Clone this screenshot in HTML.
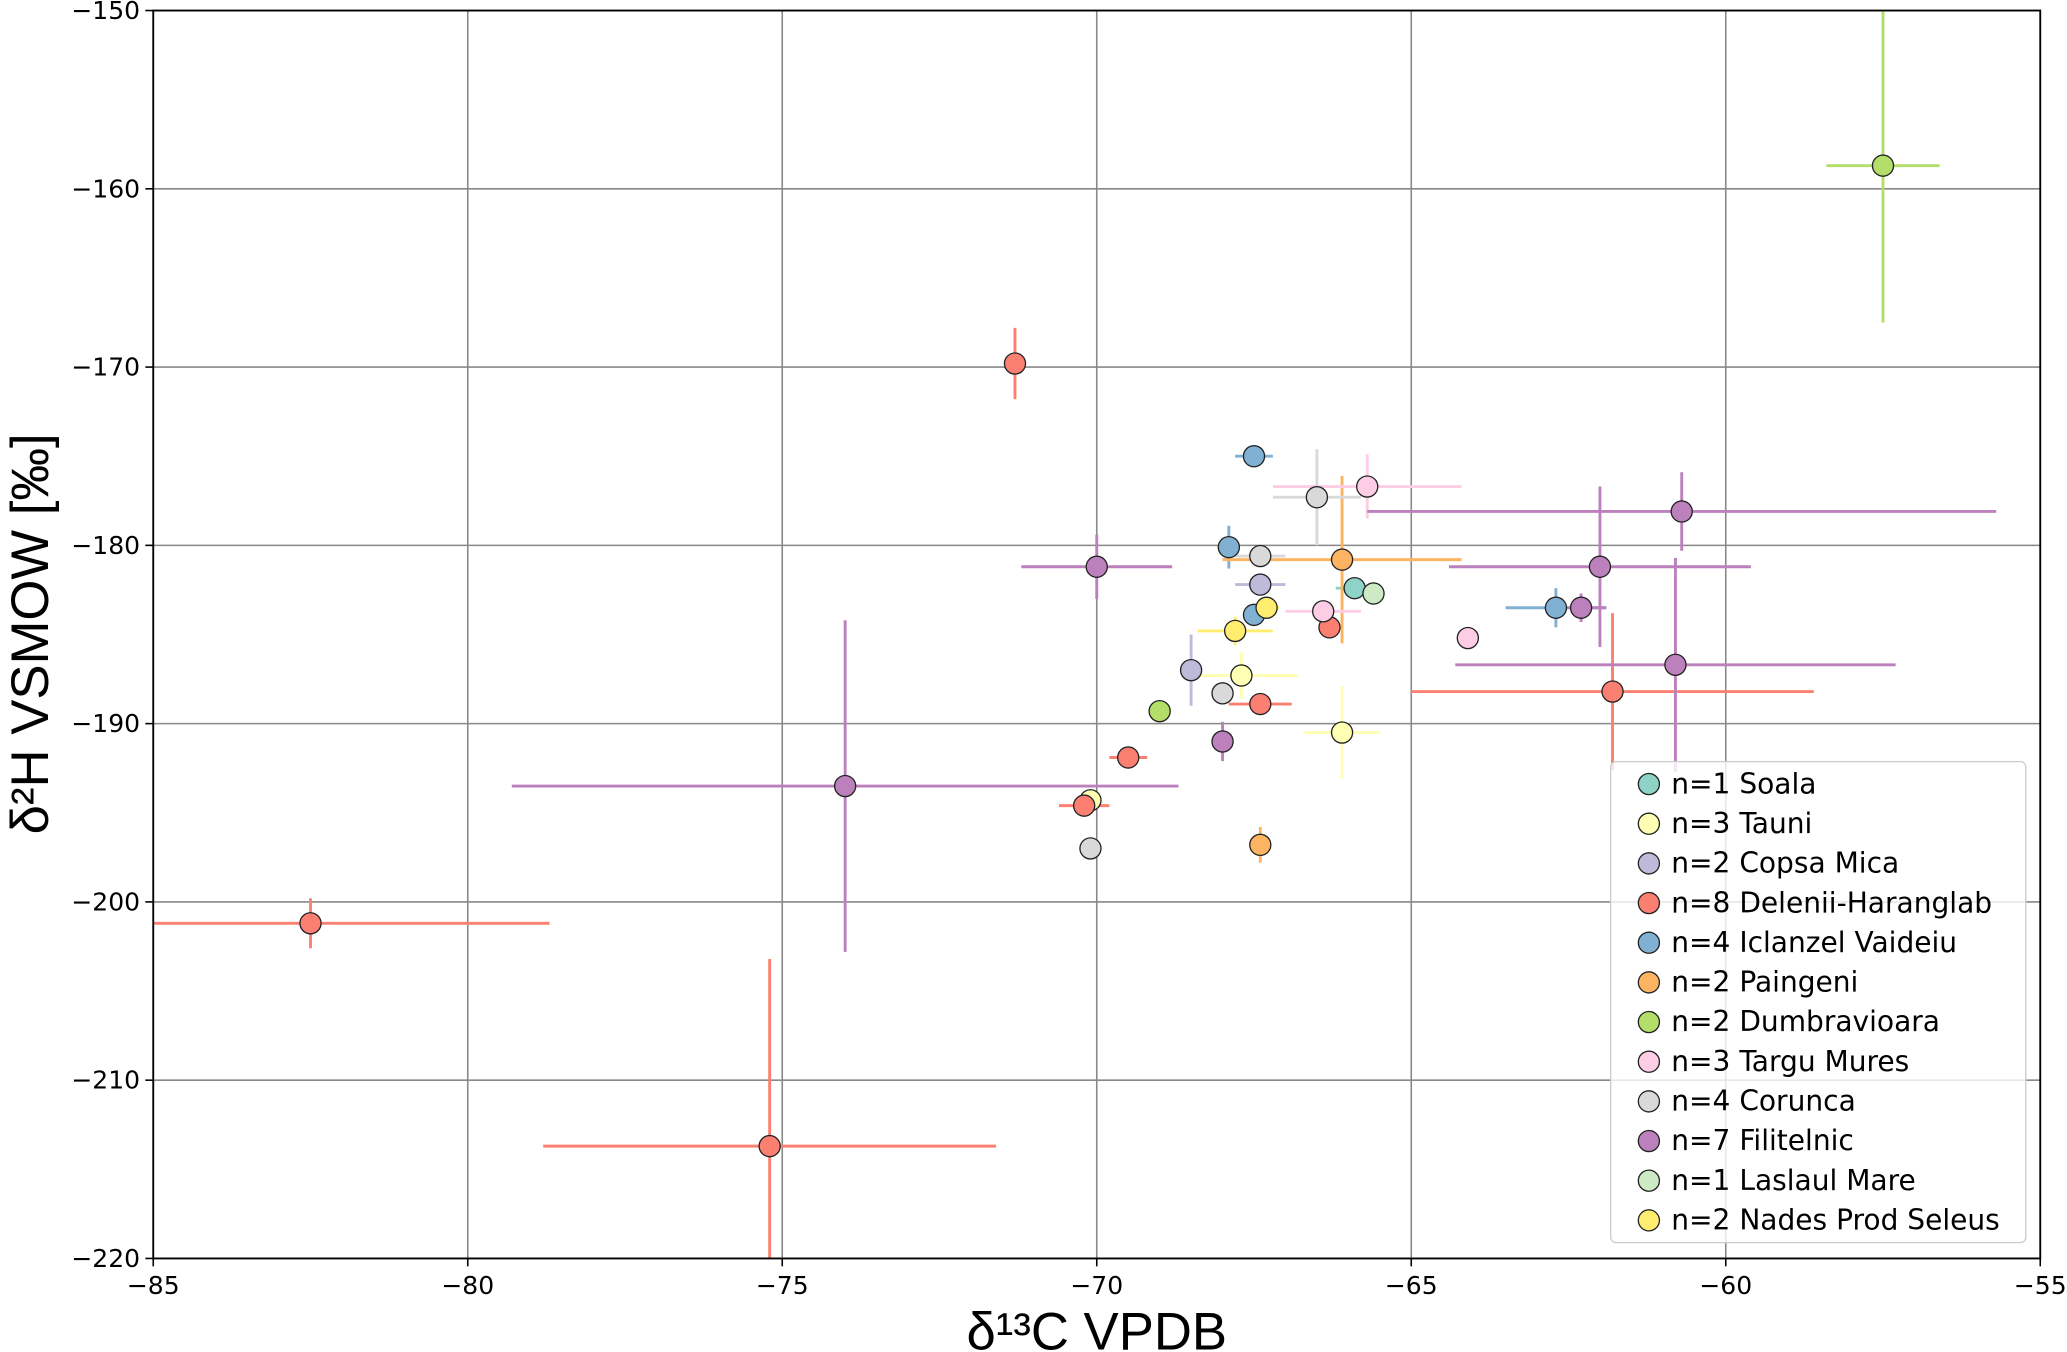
<!DOCTYPE html>
<html><head><meta charset="utf-8"><style>
html,body{margin:0;padding:0;background:#fff;}
svg{display:block;font-family:"DejaVu Sans","Liberation Sans",sans-serif;}
.ttl{font-family:"Liberation Sans",sans-serif;}
</style></head><body>
<svg id="chart" width="2067" height="1352" viewBox="0 0 1568 1026" xmlns="http://www.w3.org/2000/svg">
<g id="grid"></g>
<g id="marks"></g>
<rect x="116" y="8" width="1432" height="947" fill="none" stroke="#000" stroke-width="1.4"/>
<g id="ticks"></g>
<text class="ttl" x="832" y="1024" font-size="40" text-anchor="middle">δ¹³C VPDB</text>
<text class="ttl" transform="translate(36,481) rotate(-90)" font-size="40" text-anchor="middle">δ²H VSMOW [‰]</text>
<g id="legend"></g>
</svg>
<script>
const groups = ["n=1 Soala","n=3 Tauni","n=2 Copsa Mica","n=8 Delenii-Haranglab","n=4 Iclanzel Vaideiu","n=2 Paingeni","n=2 Dumbravioara","n=3 Targu Mures","n=4 Corunca","n=7 Filitelnic","n=1 Laslaul Mare","n=2 Nades Prod Seleus"];
const colors = ["#8dd3c7","#ffffb3","#bebada","#fb8072","#80b1d3","#fdb462","#b3de69","#fccde5","#d9d9d9","#bc80bd","#ccebc5","#ffed6f"];
const ptGroup = [0, 1,1,1, 2,2, 3,3,3,3,3,3,3,3, 4,4,4,4, 5,5, 6,6, 7,7,7, 8,8,8,8, 9,9,9,9,9,9,9, 10, 11,11];
const ptX = [-65.9, -70.1,-67.7,-66.1, -67.4,-68.5, -71.3,-82.5,-75.2,-70.2,-69.5,-67.4,-66.3,-61.8, -67.5,-67.9,-67.5,-62.7, -66.1,-67.4, -69.0,-57.5, -65.7,-66.4,-64.1, -66.5,-67.4,-68.0,-70.1, -70.0,-74.0,-68.0,-62.3,-62.0,-60.7,-60.8, -65.6, -67.3,-67.8];
const ptY = [-182.4, -194.3,-187.3,-190.5, -182.2,-187.0, -169.8,-201.2,-213.7,-194.6,-191.9,-188.9,-184.6,-188.2, -175.0,-180.1,-183.9,-183.5, -180.8,-196.8, -189.3,-158.7, -176.7,-183.7,-185.2, -177.3,-180.6,-188.3,-197.0, -181.2,-193.5,-191.0,-183.5,-181.2,-178.1,-186.7, -182.7, -183.5,-184.8];
const ptXerr = [0.3, 0,0.9,0.6, 0.4,0, 0,3.8,3.6,0.4,0.3,0.5,0,3.2, 0.3,0,0,0.8, 1.9,0, 0,0.9, 1.5,0.6,0, 0.7,0.4,0,0, 1.2,5.3,0,0.4,2.4,5.0,3.5, 0, 0.2,0.6];
const ptYerr = [0, 0,1.3,2.6, 0.5,2.0, 2.0,1.4,10.5,0,0,0,0,4.4, 0,1.2,0,1.1, 4.7,1.0, 0,8.8, 1.8,0.5,0, 2.7,0.6,0,0, 1.8,9.3,1.1,0.8,4.5,2.2,6.0, 0, 0.5,0.8];
const xTicks = [-85,-80,-75,-70,-65,-60,-55];
const yTicks = [-150,-160,-170,-180,-190,-200,-210,-220];

const L=116,R=1548,T=8,B=955;
const sx = v => L + (v - (-85)) / 30 * (R - L);
const sy = v => T + (-150 - v) / 70 * (B - T);
const NS="http://www.w3.org/2000/svg";
function mk(tag, attrs, parent){const e=document.createElementNS(NS,tag);for(const k in attrs)e.setAttribute(k,attrs[k]);parent.appendChild(e);return e;}
const grid=document.getElementById('grid'), ticks=document.getElementById('ticks'), marks=document.getElementById('marks'), leg=document.getElementById('legend');

xTicks.forEach(v=>{
  const x=sx(v);
  const g=mk('line',{x1:x,y1:T,x2:x,y2:B,stroke:'#888','stroke-width':1.2},grid);
  
  
  const t=mk('line',{x1:x,y1:B,x2:x,y2:B+6,stroke:'#000','stroke-width':1.2},ticks);
  
  
  const lb=mk('text',{x:x,y:B+27,'font-size':19,'text-anchor':'middle'},ticks);
  lb.textContent=String(v).replace('-','−');
  
  
});
yTicks.forEach(v=>{
  const y=sy(v);
  const g=mk('line',{x1:L,y1:y,x2:R,y2:y,stroke:'#888','stroke-width':1.2},grid);
  
  
  const t=mk('line',{x1:L-6,y1:y,x2:L,y2:y,stroke:'#000','stroke-width':1.2},ticks);
  
  
  const lb=mk('text',{x:L-10,y:y+6.5,'font-size':19,'text-anchor':'end'},ticks);
  lb.textContent=String(v).replace('-','−');
  
  
});

const clip=mk('clipPath',{id:'pc'},document.getElementById('chart'));
mk('rect',{x:L,y:T,width:R-L,height:B-T},clip);
marks.setAttribute('clip-path','url(#pc)');

ptX.forEach((xv,i)=>{
  const c=colors[ptGroup[i]], x=sx(xv), y=sy(ptY[i]);
  if(ptXerr[i]>0){
    const e=mk('line',{x1:sx(xv-ptXerr[i]),y1:y,x2:sx(xv+ptXerr[i]),y2:y,stroke:c,'stroke-width':2.2},marks);
    
    
  }
  if(ptYerr[i]>0){
    const e=mk('line',{x1:x,y1:sy(ptY[i]-ptYerr[i]),x2:x,y2:sy(ptY[i]+ptYerr[i]),stroke:c,'stroke-width':2.2},marks);
    
    
  }
});
ptX.forEach((xv,i)=>{
  const p=mk('circle',{cx:sx(xv),cy:sy(ptY[i]),r:8,fill:colors[ptGroup[i]],stroke:'#222','stroke-width':1},marks);
  
  
});

const lbx=mk('rect',{x:1222,y:578,width:315,height:365,rx:4,fill:'#fff','fill-opacity':0.8,stroke:'#ccc','stroke-width':1},leg);


groups.forEach((gname,i)=>{
  const y=595+i*30.1;
  const m=mk('circle',{cx:1251,cy:y,r:8,fill:colors[i],stroke:'#222','stroke-width':1},leg);
  
  
  const t=mk('text',{x:1268,y:y+7,'font-size':21.3},leg);
  t.textContent=gname;
  
  
});
</script>
</body></html>
